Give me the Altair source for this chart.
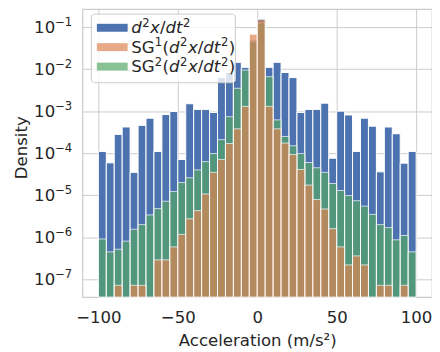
import altair as alt
import pandas as pd

# ---------------- data ----------------
bin_start = list(range(-100, 100, 5))   # 40 bins, width 5
bin_width = 5

# density of raw d2x/dt2
raw_density = [1.1e-4, 5.9e-5, 2.8e-4, 4.2e-4, 3.5e-5, 4.6e-4, 6.8e-4, 1.1e-4, 8.3e-4, 9.8e-4,
               7.1e-5, 1.5e-3, 1.1e-3, 1.1e-3, 9.3e-4, 6.3e-3, 8.3e-3, 1.45e-2, 1.1e-2, 4.9e-2,
               0.158, 1.1e-2, 1.45e-2, 8.3e-3, 6.3e-3, 9.3e-4, 1.1e-3, 1.1e-3, 1.55e-3, 7.6e-5,
               1.0e-3, 8.1e-4, 1.1e-4, 6.8e-4, 4.4e-4, 3.6e-5, 4.2e-4, 2.9e-4, 5.8e-5, 1.1e-4]
# density of SG^1(d2x/dt2)  (0 = empty bin)
sg1_density = [0, 0, 7.2e-8, 0, 7.2e-8, 7.2e-8, 0, 2.9e-7, 2.9e-7, 5.9e-7,
               1.17e-6, 2.75e-6, 4.3e-6, 1.07e-5, 3.5e-5, 7.1e-5, 1.7e-4, 3.8e-4, 1.3e-3, 6.8e-2,
               0.151, 1.3e-3, 3.8e-4, 1.74e-4, 9.3e-5, 4.1e-5, 1.74e-5, 7.9e-6, 4.7e-6, 1.6e-6,
               5.9e-7, 2.2e-7, 3.6e-7, 2.2e-7, 0, 7.2e-8, 7.2e-8, 0, 7.2e-8, 0]
# density of SG^2(d2x/dt2)
sg2_density = [9.1e-7, 4.5e-7, 5.2e-7, 8.1e-7, 1.55e-6, 2.0e-6, 3.4e-6, 4.8e-6, 7.2e-6, 1.23e-5,
               2.0e-5, 2.6e-5, 4.0e-5, 6.3e-5, 9.8e-5, 2.1e-4, 7.4e-4, 3.5e-3, 9.5e-3, 4.5e-2,
               0.126, 6.6e-3, 6.2e-4, 2.5e-4, 1.5e-4, 9.8e-5, 6.0e-5, 4.5e-5, 3.5e-5, 1.9e-5,
               1.3e-5, 9.8e-6, 7.4e-6, 5.5e-6, 3.5e-6, 2.0e-6, 1.7e-6, 8.7e-7, 1.1e-6, 4.5e-7]

x_ticks = [-100, -50, 0, 50, 100]
y_ticks = [1e-1, 1e-2, 1e-3, 1e-4, 1e-5, 1e-6, 1e-7]
y_tick_exp = ["−1", "−2", "−3", "−4", "−5", "−6", "−7"]
x_title = "Acceleration (m/s²)"
y_title = "Density"
# legend labels as (text, kind) pieces: up = upright, it = italic, sup = superscript
math_part = [("d", "it"), ("2", "sup"), ("x", "it"), ("/", "up"), ("d", "it"), ("t", "it"), ("2", "sup")]
legend_labels = [
    math_part,
    [("SG", "up"), ("1", "sup"), ("(", "up")] + math_part + [(")", "up")],
    [("SG", "up"), ("2", "sup"), ("(", "up")] + math_part + [(")", "up")],
]

# ---------------- styling ----------------
FONT = "DejaVu Sans"
FS = 16.67
SUP = 11.67
TXT = "#262626"
GRID = "#cccccc"
colors = {"raw": "#4c72b0", "sg1": "#dd8452", "sg2": "#55a868"}
W, H = 352, 290

rows = []
for name, vals in [("raw", raw_density), ("sg1", sg1_density), ("sg2", sg2_density)]:
    for s, v in zip(bin_start, vals):
        if v > 0:
            rows.append(dict(series=name, start=s, end=s + bin_width, density=v))
df = pd.DataFrame(rows)

x_scale = alt.Scale(domain=[-110, 110], nice=False, zero=False)
y_scale = alt.Scale(type="log", domain=[10 ** -7.425, 10 ** -0.575], nice=False)

x_axis = alt.Axis(values=x_ticks, tickSize=0, labelPadding=13, grid=True, domain=False,
                  labelExpr="datum.value < 0 ? '−' + format(-datum.value, 'd') : format(datum.value, 'd')",
                  title=x_title, titleY=48.5, titleBaseline="alphabetic")
y_axis = alt.Axis(values=y_ticks, tickSize=0, labelPadding=28, grid=True, domain=False,
                  labelExpr="'10'",
                  title=y_title, titleX=-61, titleY=139, titleAngle=270,
                  titleBaseline="middle", titleAlign="center")


def bars(name, opacity):
    return alt.Chart(df).transform_filter(alt.datum.series == name).mark_bar(
        color=colors[name], opacity=opacity, stroke="white", strokeWidth=1
    ).encode(
        x=alt.X("start:Q", scale=x_scale, axis=x_axis),
        x2="end:Q",
        y=alt.Y("density:Q", scale=y_scale, axis=y_axis),
        y2=alt.value(H),
    )


# exponents of the y tick labels, placed through the y scale
exp_df = pd.DataFrame({"v": y_ticks, "e": y_tick_exp})
exp_layer = alt.Chart(exp_df).mark_text(
    align="left", baseline="alphabetic", font=FONT, fontSize=SUP, color=TXT, dy=-1
).encode(
    x=alt.value(-27.5),
    y=alt.Y("v:Q", scale=y_scale, axis=y_axis),
    text="e:N",
)

one = pd.DataFrame({"k": [0]})

# legend (manual, to mix upright, italic and superscript text)
em = {"S": 0.635, "G": 0.776, "(": 0.390, ")": 0.390, "1": 0.636, "2": 0.636,
      "d": 0.635, "x": 0.592, "/": 0.337, "t": 0.392}


def tw(s, size):
    return sum(em.get(c, 0.6) for c in s) * size


legend_layers = [
    alt.Chart(one).mark_rect(fill="white", fillOpacity=0.8, stroke=GRID, strokeWidth=1,
                             cornerRadius=3).encode(
        x=alt.value(9), x2=alt.value(154), y=alt.value(5), y2=alt.value(74))
]
row_y = [18.7, 38.2, 57.8]
series_order = ["raw", "sg1", "sg2"]
for i, name in enumerate(series_order):
    op = 1.0 if name == "raw" else 0.7
    yc = row_y[i]
    legend_layers.append(
        alt.Chart(one).mark_rect(fill=colors[name], fillOpacity=op).encode(
            x=alt.value(14.5), x2=alt.value(45.5), y=alt.value(yc - 4), y2=alt.value(yc + 4)))
    x0 = 49.0
    base = yc + 5.5
    prev = None
    for txt, kind in legend_labels[i]:
        if kind == "sup":
            size, style, yy = SUP, "normal", base - 6.3
            x0 += 0.6 if prev == "it" else 0.2
        else:
            size, style, yy = FS, ("italic" if kind == "it" else "normal"), base
            if prev == "sup":
                x0 += 0.5
        legend_layers.append(
            alt.Chart(one).mark_text(text=txt, align="left", baseline="alphabetic",
                                     font=FONT, fontSize=size, fontStyle=style,
                                     color=TXT).encode(
                x=alt.value(round(x0, 2)), y=alt.value(yy)))
        x0 += tw(txt, size)
        prev = kind

chart = alt.layer(
    bars("raw", 1.0),
    bars("sg2", 0.7),
    bars("sg1", 0.7),
    exp_layer,
    *legend_layers,
).properties(
    width=W, height=H,
    autosize=alt.AutoSizeParams(type="none"),
    padding={"left": 75, "top": 0, "right": 0, "bottom": 54},
    background="white",
).configure_view(
    stroke=GRID, strokeWidth=1.25
).configure_axis(
    labelFont=FONT, titleFont=FONT, labelFontSize=FS, titleFontSize=FS,
    labelColor=TXT, titleColor=TXT, titleFontWeight="normal",
    gridColor=GRID, gridWidth=1, gridOpacity=1,
)

chart.save("out.html", embed_options={"renderer": "svg", "actions": False})
